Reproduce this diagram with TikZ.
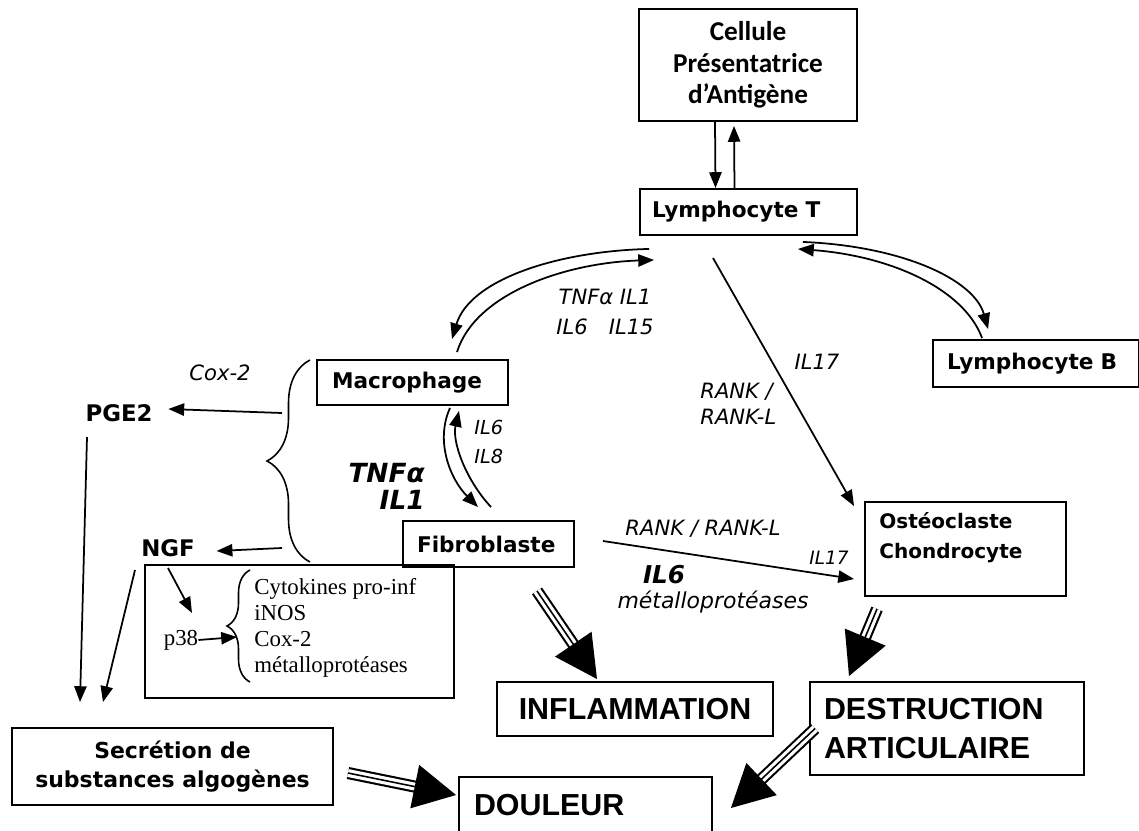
\documentclass[tikz,border=0pt]{standalone}
\usepackage{fontspec}
\setmainfont{DejaVu Sans}
\newfontfamily\calib{Carlito}
\newfontfamily\romfont{Liberation Serif}
\newfontfamily\capsfont{Liberation Sans}
\usetikzlibrary{arrows.meta,calc,decorations.pathreplacing}

% grosse fleche a triple trait
\newcommand{\grossefleche}[2]{%
  \draw[line width=1.2pt, double distance=4.5pt, shorten >=18pt] #1 -- #2;
  \draw[line width=0.9pt, -{Triangle[length=24pt,width=25pt]}] #1 -- #2;}

\begin{document}
\begin{tikzpicture}[x=0.02cm,y=-0.02cm,
  box/.style={draw, line width=1.1pt, inner sep=0pt, font=\bfseries\fontsize{12.3}{15}\selectfont},
  bigbox/.style={draw, line width=1.1pt, inner sep=0pt, font=\capsfont\bfseries\fontsize{17.3}{22.7}\selectfont},
  cyto/.style={inner sep=0pt, font=\itshape\fontsize{12}{14.7}\selectfont},
  mol/.style={inner sep=0pt, font=\bfseries\fontsize{13}{15}\selectfont},
  fleche/.style={-{Triangle[length=9pt,width=7pt]}, line width=1pt},
  accolade/.style={decorate, line width=0.9pt, decoration={brace,amplitude=#1}}]
\useasboundingbox (0,0) rectangle (1139,831);

% cellules
\node[box, font=\calib\bfseries\fontsize{15.5}{18}\selectfont, minimum width=4.36cm, minimum height=2.24cm, align=center] (cpa) at (748,65) {Cellule\\Présentatrice\\d’Antigène};
\node[box, minimum width=4.34cm, minimum height=0.92cm, text width=3.86cm, align=left] (lymT) at (748.5,212) {Lymphocyte T};
\node[box, minimum width=4.12cm, minimum height=0.94cm, text width=3.56cm, align=left] (lymB) at (1036,363.5) {Lymphocyte B};
\node[box, minimum width=3.82cm, minimum height=0.9cm, text width=3.22cm, align=left] (macro) at (412.5,382.5) {Macrophage};
\node[box, minimum width=3.42cm, minimum height=0.92cm, text width=2.86cm, align=left] (fibro) at (488.5,544) {Fibroblaste};
\node[box, minimum width=4.02cm, minimum height=1.88cm] (osteo) at (965.5,549) {};
\node[inner sep=0pt, anchor=west, align=left, font=\bfseries\fontsize{11.4}{17}\selectfont] (osteoTxt) at (879,538) {Ostéoclaste\\Chondrocyte};

% cadre p38
\node[box, minimum width=6.18cm, minimum height=2.66cm] (cadre) at (299.5,631.5) {};
\node[inner sep=0pt, anchor=west, align=left, font=\romfont\fontsize{13}{14.7}\selectfont] (liste) at (254,628) {Cytokines pro-inf\\iNOS\\Cox-2\\métalloprotéases};
\node[inner sep=0pt, font=\romfont\fontsize{13}{15}\selectfont] (p38) at (181,640) {p38};

% consequences
\node[box, minimum width=6.42cm, minimum height=1.54cm, align=center, font=\bfseries\fontsize{12.5}{16.4}\selectfont] (secr) at (172.5,766.5) {Secrétion de\\substances algogènes};
\node[bigbox, minimum width=5.52cm, minimum height=1.08cm] (infl) at (635,709) {INFLAMMATION};
\node[bigbox, minimum width=5.48cm, minimum height=1.86cm, text width=4.92cm, align=left] (destr) at (947,728.5) {DESTRUCTION\\ARTICULAIRE};
\node[bigbox, minimum width=5.06cm, minimum height=1.12cm, text width=4.46cm, align=left] (doul) at (585.5,805) {DOULEUR};

% mediateurs
\node[mol] (pge) at (119,413) {PGE2};
\node[mol] (ngf) at (168,548) {NGF};
\node[cyto] (cox) at (220,373) {Cox-2};
\node[cyto, align=center, font=\itshape\fontsize{12}{17}\selectfont] (tnfT) at (605,312) {TNFα IL1\\IL6\quad IL15};
\node[cyto] (il17a) at (817,362) {IL17};
\node[cyto, anchor=west, align=left] (rankA) at (700,404) {RANK /\\RANK-L};
\node[cyto, anchor=west, align=left, font=\itshape\fontsize{11}{16}\selectfont] (il68) at (474,442) {IL6\\IL8};
\node[inner sep=0pt, anchor=east, align=right, font=\bfseries\itshape\fontsize{15}{15.3}\selectfont] (tnfM) at (425,486) {TNFα\\IL1};
\node[cyto] (rankB) at (703,529) {RANK / RANK-L};
\node[cyto, font=\itshape\fontsize{10.5}{12}\selectfont] (il17b) at (829,558) {IL17};
\node[inner sep=0pt, font=\bfseries\itshape\fontsize{14}{16}\selectfont] (il6b) at (664,575) {IL6};
\node[cyto, font=\itshape\fontsize{12.5}{14}\selectfont] (metal) at (713,602) {métalloprotéases};

% accolades
\draw[accolade=0.86cm] (310,562) -- (310,360);
\draw[accolade=0.46cm] (250,682) -- (250,570);
\coordinate (accH) at (282,413);
\coordinate (accB) at (282,548);

% fleches
\draw[fleche] ($(cpa.south)+(-33,0)$) -- ($(lymT.north)+(-33,0)$);
\draw[fleche] ($(lymT.north)+(-14,0)$) -- ($(cpa.south)+(-14,4)$);
\draw[fleche] ($(lymT.south west)+(10,13)$) .. controls +(-90,2) and +(18,-60) .. ($(macro.north)+(39.5,-20)$);
\draw[fleche] ($(macro.north)+(44.5,-7)$) .. controls +(18,-58) and +(-90,3) .. ($(lymT.south west)+(15,24)$);
\draw[fleche] ($(lymT.south east)+(-55,6)$) .. controls +(98,4) and +(-14,-50) .. ($(lymB.north west)+(56,-10)$);
\draw[fleche] ($(lymB.north west)+(50,-1)$) .. controls +(-18,-49) and +(93,7) .. ($(lymT.south east)+(-60,13)$);
\draw[fleche] ($(macro.south)+(37.5,2)$) .. controls +(-15,33) and +(-28,-28) .. ($(fibro.north)+(-10.5,-13)$);
\draw[fleche] ($(fibro.north)+(2.5,-13)$) .. controls +(-26,-28) and +(-7,30) .. ($(macro.south)+(46.5,5)$);
\draw[fleche] ($(lymT.south)+(-35.5,22)$) -- ($(osteo.north west)+(-10,5)$);
\draw[fleche] ($(fibro.east)+(28,-3)$) -- ($(osteo.west)+(-10,30)$);
\draw[fleche] (accH) -- ($(pge.east)+(15.5,-4)$);
\draw[fleche] (accB) -- ($(ngf.east)+(21.5,3)$);
\draw[fleche] ($(pge.center)+(-32,24)$) -- ($(secr.north)+(-92.5,-25)$);
\draw[fleche] ($(ngf.center)+(-33,22)$) -- ($(secr.north)+(-69.5,-25)$);
\draw[fleche] ($(ngf.center)+(0,20)$) -- ($(p38.center)+(11,-27)$);
\draw[fleche] (p38.east) -- ($(liste.west)+(-17,9)$);

% grosses fleches
\grossefleche{($(fibro.south)+(48.5,23)$)}{($(infl.north)+(-38,-2)$)}
\grossefleche{($(osteo.south)+(-88.5,12)$)}{($(destr.north)+(-98,-5)$)}
\grossefleche{($(destr.west)+(6,0)$)}{($(doul.east)+(18,3)$)}
\grossefleche{($(secr.east)+(14,6.5)$)}{($(doul.west)+(-2,-10)$)}
\end{tikzpicture}
\end{document}
